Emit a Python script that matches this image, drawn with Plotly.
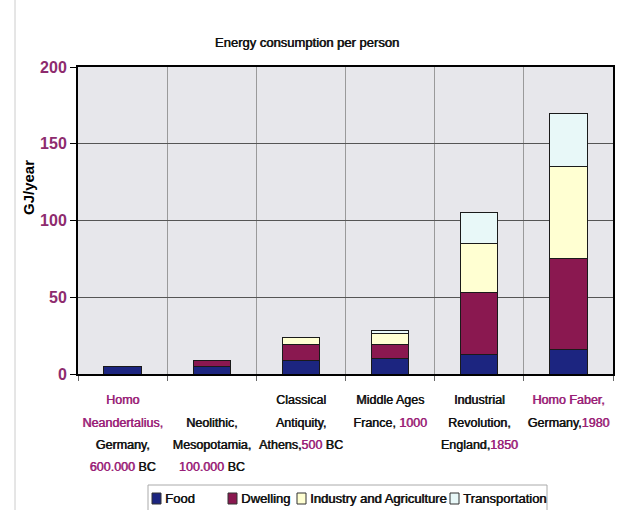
import plotly.graph_objects as go

P = "#9A1F78"  # purple used for highlighted text
SH_P = f"text-shadow:0.6px 0 0 {P}"


def hi(s):
    return f"<span style='color:{P};{SH_P}'>{s}</span>"


categories = ["Neanderthal", "Neolithic", "Classical", "MiddleAges", "Industrial", "HomoFaber"]
label_lines = [
    [hi("Homo"), hi("Neandertalius,"), "Germany,", f"{hi('600.000')} BC"],
    ["&nbsp;", "Neolithic,", "Mesopotamia,", f"{hi('100.000')} BC"],
    ["Classical", "Antiquity,", f"Athens,{hi('500')} BC"],
    ["Middle Ages", f"France, {hi('1000')}"],
    ["Industrial", "Revolution,", f"England,{hi('1850')}"],
    [hi("Homo Faber,"), f"Germany,{hi('1980')}"],
]
food = [5, 5, 9, 10, 13, 16]
dwelling = [None, 3.5, 10, 9.5, 40, 59]
industry = [None, None, 4.5, 7, 32, 60]
transport = [None, None, None, 2, 20, 35]

series_names = ["Food", "Dwelling", "Industry and Agriculture", "Transportation"]
series_values = [food, dwelling, industry, transport]
series_colors = ["#1C2580", "#8A1850", "#FFFFD2", "#E8F8F8"]

W, H = 620, 510
ML, MR, MT, MB = 78, 7, 67, 136
PW, PH = W - ML - MR, H - MT - MB


def px2x(px):
    return (px - ML) / PW


def px2y(py):
    return (H - MB - py) / PH


FONT = "Liberation Sans, Arial, sans-serif"
SHADOW = "0.6px 0 0 #111111"
tick_labels = [
    "<br>".join(f"<span style='font-size:12.5px'>{ln}</span>" for ln in lines)
    for lines in label_lines
]

fig = go.Figure()
for name, vals, col in zip(series_names, series_values, series_colors):
    fig.add_trace(go.Bar(
        x=categories, y=vals, name=name, showlegend=False,
        marker=dict(color=col, line=dict(color="#1a1a1a", width=1)),
    ))

fig.update_layout(
    width=W, height=H,
    barmode="stack", bargap=0.58,
    paper_bgcolor="white", plot_bgcolor="#E7E7EB",
    margin=dict(l=ML, r=MR, t=MT, b=MB, autoexpand=False),
    title=dict(text="Energy consumption per person", x=0.495, xanchor="center",
               y=1 - 42 / H, yanchor="middle",
               font=dict(family=FONT, size=13, color="#111111", shadow=SHADOW)),
    showlegend=False,
    font=dict(family=FONT, color="black"),
)
fig.update_xaxes(
    type="category", tickmode="array", tickvals=categories, ticktext=tick_labels,
    tickson="boundaries", showgrid=True, gridcolor="#9a9a9a", gridwidth=1,
    ticks="outside", ticklen=5, tickcolor="#666666",
    showline=True, linecolor="black", linewidth=2, mirror=True,
    tickfont=dict(family=FONT, size=17, color="#111111", shadow=SHADOW),
    ticklabelstandoff=8, tickangle=0,
)
fig.update_yaxes(
    range=[0, 200], tickvals=[0, 50, 100, 150, 200],
    showgrid=True, gridcolor="#555555", gridwidth=1,
    ticks="outside", ticklen=6, tickcolor="black",
    showline=True, linecolor="black", linewidth=2, mirror=True,
    zeroline=False,
    tickfont=dict(family=FONT, size=16, color="#8E2B6E", weight="bold"),
)
# y-axis title (placed as in the original, above the axis centre)
fig.add_annotation(xref="paper", yref="paper", x=px2x(28), y=px2y(188),
                   xanchor="center", yanchor="middle", showarrow=False, textangle=-90,
                   text="<b>GJ/year</b>", font=dict(family=FONT, size=15, color="black"))

# page edge line (scan)
fig.add_shape(type="line", xref="paper", yref="paper",
              x0=px2x(15), x1=px2x(15), y0=px2y(H), y1=px2y(0),
              line=dict(color="#cccccc", width=1))

# legend box drawn manually to match the original's layout
fig.add_shape(type="rect", xref="paper", yref="paper",
              x0=px2x(148), x1=px2x(547), y0=px2y(514), y1=px2y(485),
              line=dict(color="#aaaaaa", width=1), fillcolor="white", layer="above")
leg_sq_left = [152, 228, 297, 450]
for name, col, lx in zip(series_names, series_colors, leg_sq_left):
    fig.add_shape(type="rect", xref="paper", yref="paper",
                  x0=px2x(lx), x1=px2x(lx + 9), y0=px2y(504), y1=px2y(493),
                  line=dict(color="#333333", width=1), fillcolor=col, layer="above")
    fig.add_annotation(xref="paper", yref="paper", x=px2x(lx + 11), y=px2y(498.5),
                       xanchor="left", yanchor="middle", showarrow=False,
                       text=name, font=dict(family=FONT, size=13, color="#111111",
                                            shadow=SHADOW))

fig.write_html("out.html")
